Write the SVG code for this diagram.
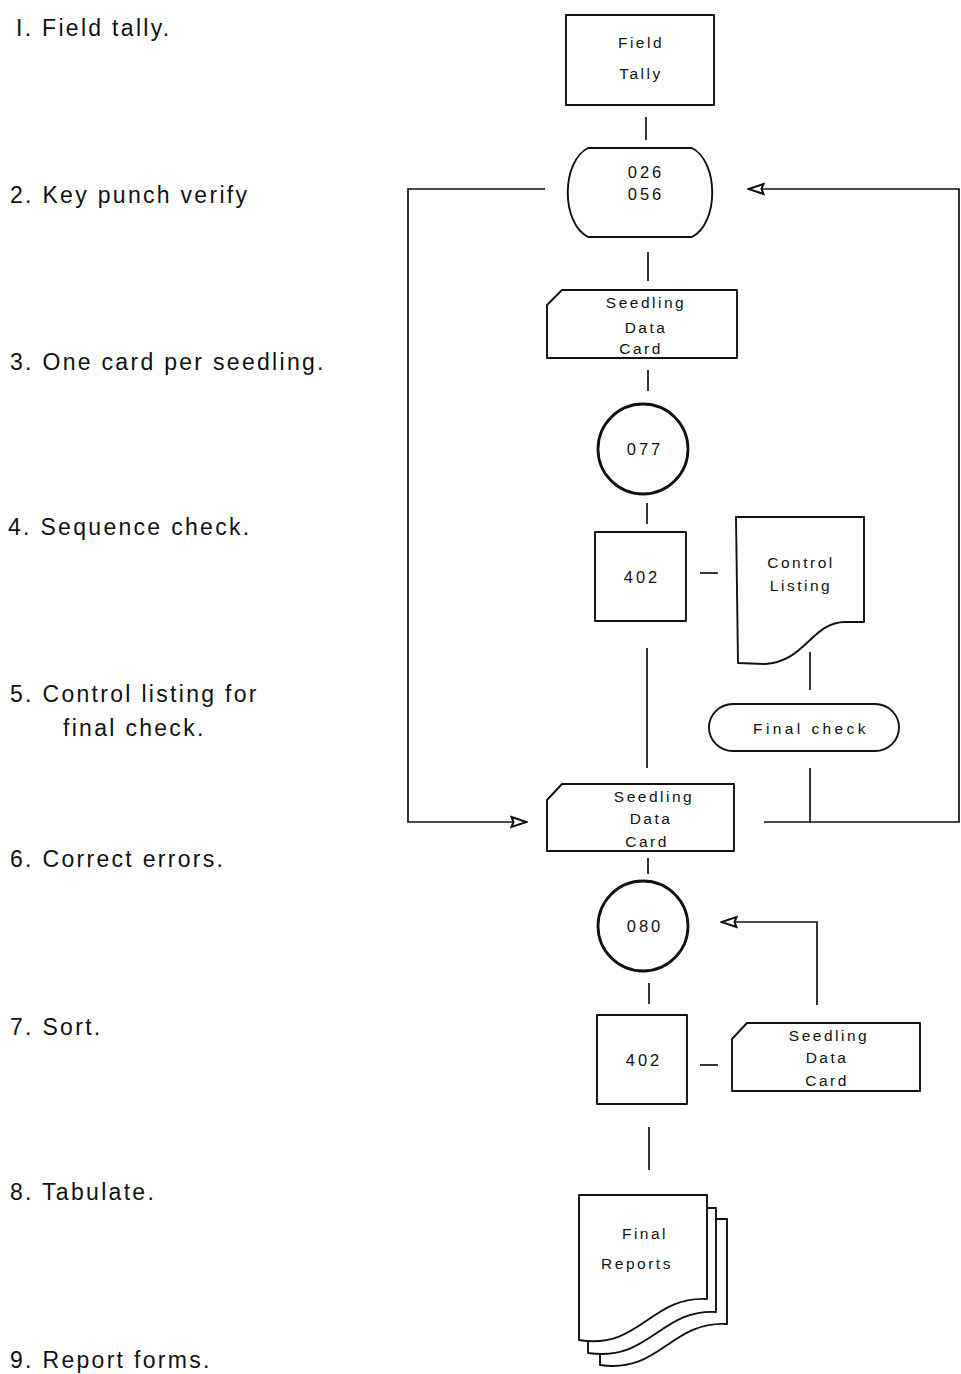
<svg xmlns="http://www.w3.org/2000/svg" width="961" height="1374" viewBox="0 0 961 1374">
<style>
.shape{fill:#fff;stroke:#111;stroke-width:1.9;stroke-linejoin:round}
.thick{fill:#fff;stroke:#111;stroke-width:2.8}
.conn{fill:none;stroke:#111;stroke-width:1.7}
.lbl{font-family:"Liberation Sans",Arial,sans-serif;font-size:23px;letter-spacing:2.3px;fill:#111}
.nt{font-family:"Liberation Sans",Arial,sans-serif;font-size:15.5px;letter-spacing:2.5px;fill:#111;text-anchor:middle}
.num{font-family:"Liberation Sans",Arial,sans-serif;font-size:16.5px;letter-spacing:3px;fill:#111;text-anchor:middle}
</style>
<defs>
<marker id="open" viewBox="0 0 18 14" refX="17" refY="7" markerWidth="18" markerHeight="14" markerUnits="userSpaceOnUse" orient="auto">
<path d="M1.5,2 L16.5,7 L1.5,12 L3.5,7 Z" fill="#fff" stroke="#111" stroke-width="2" stroke-linejoin="miter"/>
</marker>
</defs>
<rect width="961" height="1374" fill="#fff"/>

<g id="labels">
<text class="lbl" x="16" y="36">I. Field tally.</text>
<text class="lbl" x="10" y="203">2. Key punch verify</text>
<text class="lbl" x="10" y="370">3. One card per seedling.</text>
<text class="lbl" x="8" y="535">4. Sequence check.</text>
<text class="lbl" x="10" y="702">5. Control listing for</text>
<text class="lbl" x="63" y="736">final check.</text>
<text class="lbl" x="10" y="867">6. Correct errors.</text>
<text class="lbl" x="10" y="1035">7. Sort.</text>
<text class="lbl" x="10" y="1200">8. Tabulate.</text>
<text class="lbl" x="10" y="1368">9. Report forms.</text>
</g>

<g id="connectors">
<line class="conn" x1="646" y1="117" x2="646" y2="140"/>
<line class="conn" x1="648" y1="252" x2="648" y2="281"/>
<line class="conn" x1="648" y1="370" x2="648" y2="391"/>
<line class="conn" x1="647" y1="503" x2="647" y2="524"/>
<line class="conn" x1="700" y1="573" x2="718" y2="573"/>
<line class="conn" x1="647" y1="648" x2="647" y2="768"/>
<line class="conn" x1="810" y1="652" x2="810" y2="690"/>
<polyline class="conn" points="810,768 810,822 764,822"/>
<polyline class="conn" points="810,822 959,822 959,189 748,189" marker-end="url(#open)"/>
<polyline class="conn" points="545,189 408,189 408,822 527,822" marker-end="url(#open)"/>
<line class="conn" x1="648" y1="858" x2="648" y2="874"/>
<polyline class="conn" points="817,1005 817,922 721,922" marker-end="url(#open)"/>
<line class="conn" x1="649" y1="983" x2="649" y2="1004"/>
<line class="conn" x1="700" y1="1065" x2="718" y2="1065"/>
<line class="conn" x1="649" y1="1127" x2="649" y2="1170"/>
</g>

<g id="field-tally">
<rect class="shape" x="566" y="15" width="148" height="90"/>
<text class="nt" x="641" y="48">Field</text>
<text class="nt" x="641" y="79">Tally</text>
</g>

<g id="keypunch">
<path class="shape" d="M588,148 L692,148 C719,162 719,223 692,237 L588,237 C561,223 561,162 588,148 Z"/>
<text class="num" x="646" y="178">026</text>
<text class="num" x="646" y="200">056</text>
</g>

<g id="card1">
<path class="shape" d="M562,290 L737,290 L737,358 L547,358 L547,305 Z"/>
<text class="nt" x="646" y="308">Seedling</text>
<text class="nt" x="646" y="333">Data</text>
<text class="nt" x="641" y="354">Card</text>
</g>

<g id="sorter077">
<circle class="thick" cx="643" cy="449" r="45"/>
<text class="num" x="645" y="455">077</text>
</g>

<g id="tab402a">
<rect class="shape" x="595" y="532" width="91" height="89"/>
<text class="num" x="642" y="583">402</text>
</g>

<g id="control-listing">
<path class="shape" d="M736,517 L864,517 L864,622 L845,622 C812,622 805,662 765,664 L738,663 Z"/>
<text class="nt" x="801" y="568">Control</text>
<text class="nt" x="801" y="591">Listing</text>
</g>

<g id="final-check">
<rect class="shape" x="709" y="704" width="190" height="47" rx="24" ry="23.5"/>
<text class="nt" x="811" y="734" style="letter-spacing:3.4px">Final check</text>
</g>

<g id="card2">
<path class="shape" d="M562,784 L734,784 L734,851 L547,851 L547,800 Z"/>
<text class="nt" x="654" y="802">Seedling</text>
<text class="nt" x="651" y="824">Data</text>
<text class="nt" x="647" y="847">Card</text>
</g>

<g id="sorter080">
<circle class="thick" cx="643" cy="926" r="45"/>
<text class="num" x="645" y="932">080</text>
</g>

<g id="tab402b">
<rect class="shape" x="597" y="1015" width="90" height="89"/>
<text class="num" x="644" y="1066">402</text>
</g>

<g id="card3">
<path class="shape" d="M747,1023 L920,1023 L920,1091 L732,1091 L732,1039 Z"/>
<text class="nt" x="829" y="1041">Seedling</text>
<text class="nt" x="827" y="1063">Data</text>
<text class="nt" x="827" y="1086">Card</text>
</g>

<g id="final-reports">
<path class="shape" d="M600,1219 L727,1219 L727,1324 C670,1321 660,1374 600,1365 Z"/>
<path class="shape" d="M588,1208 L716,1208 L716,1312 C660,1309 650,1362 588,1353 Z"/>
<path class="shape" d="M579,1195 L707,1195 L707,1299 C650,1296 640,1350 579,1340 Z"/>
<text class="nt" x="645" y="1239">Final</text>
<text class="nt" x="637" y="1269">Reports</text>
</g>
</svg>
